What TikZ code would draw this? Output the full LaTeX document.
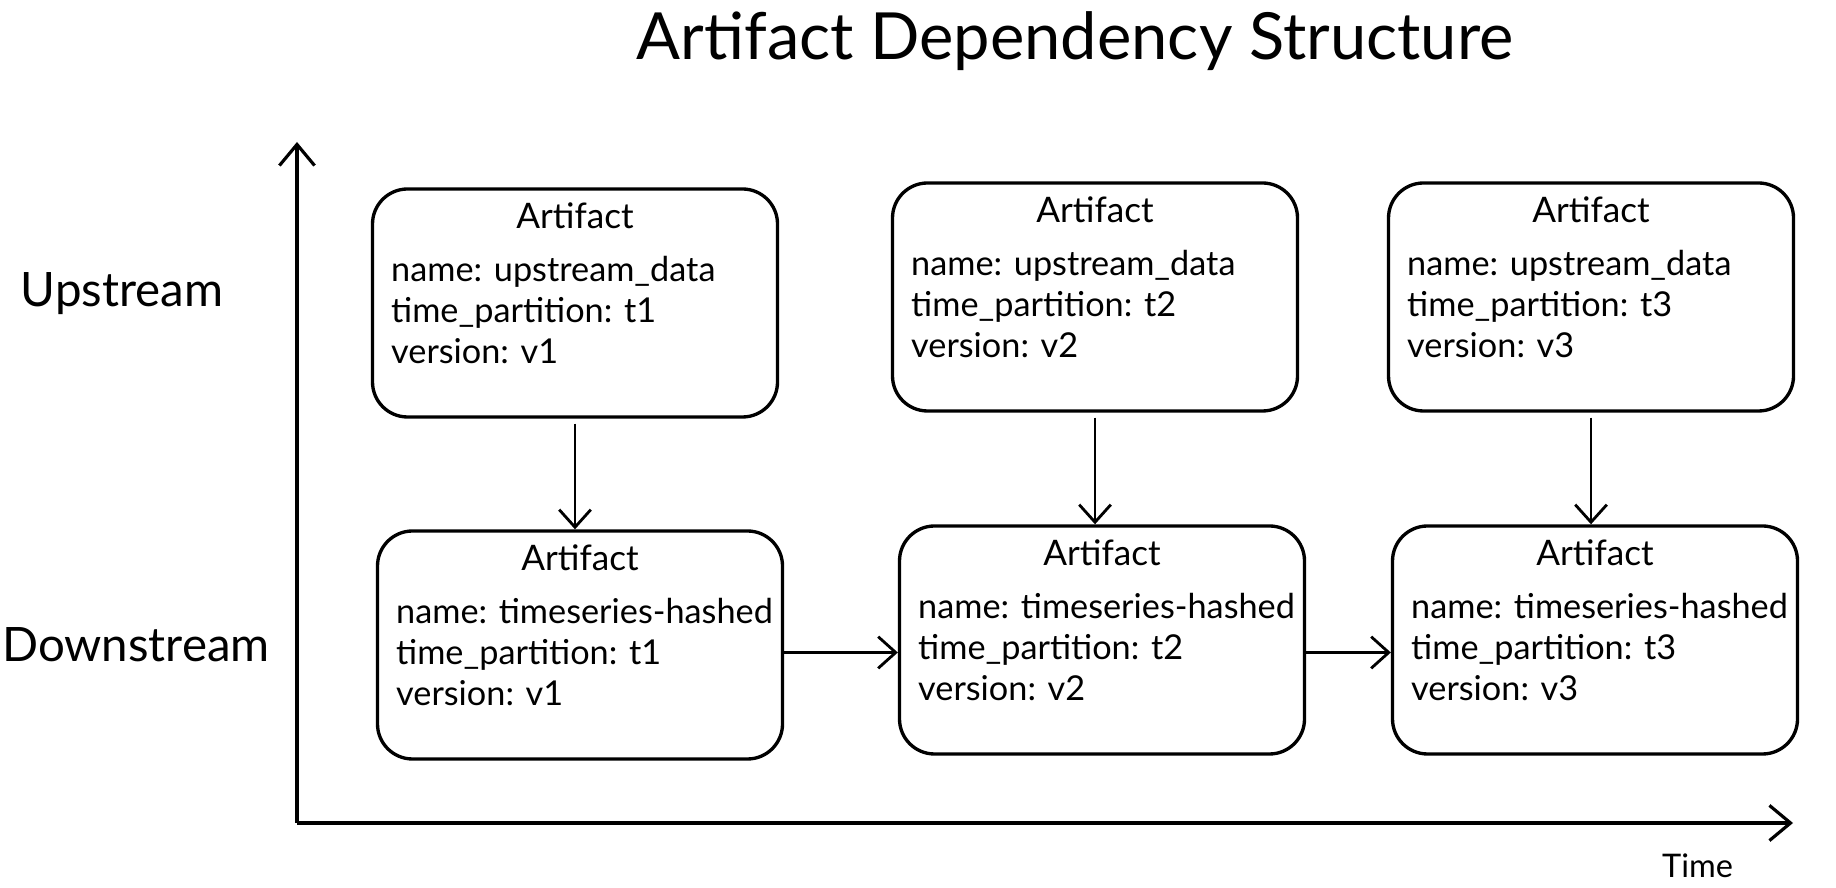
\documentclass[tikz,border=0pt]{standalone}
\usepackage{fontspec}
\setmainfont{Lato}
\usetikzlibrary{arrows.meta}

\tikzset{
    artbox/.style={draw, line width=1.9pt, rounded corners=0.7cm, minimum width=8.1cm, minimum height=4.56cm},
    headtxt/.style={font=\fontsize{20}{23}\selectfont, inner sep=0pt},
    bodytxt/.style={font=\fontsize{19.5}{23.2}\selectfont, align=left, anchor=north west, inner sep=0pt},
    flow/.style={line width=1.6pt, -{Straight Barb[length=10pt,width=18pt,line width=1.6pt]}},
    axis/.style={line width=2.4pt, -{Straight Barb[length=12pt,width=20pt,line width=1.8pt]}},
}

\begin{document}
\begin{tikzpicture}
        \useasboundingbox (0,0) rectangle (36.72,17.76);
        \node[font=\fontsize{37}{44}\selectfont] (title) at (21.5,16.94) {Artifact Dependency Structure};
        % axes
        \coordinate (origin) at (5.94,1.3);
        \coordinate (ytop) at (5.94,14.92);
        \coordinate (xend) at (35.86,1.3);
        \draw[axis] (origin) -- (ytop);
        \draw[axis] (origin) -- (xend);
        \node[font=\fontsize{18.5}{22}\selectfont] (time) at (33.95,0.44) {Time};
        \node[font=\fontsize{27}{32}\selectfont] (upstream) at (2.44,11.88) {Upstream};
        \node[font=\fontsize{27}{32}\selectfont] (downstream) at (2.72,4.86) {Downstream};
        % upstream artifacts
        \node[artbox] (up1) at (11.5,11.7) {};
        \node[headtxt] (up1h) at ([yshift=-0.56cm]up1.north) {Artifact};
        \node[bodytxt] (up1b) at ([xshift=0.4cm,yshift=-1.38cm]up1.north west) {name: upstream\_data\\time\_partition: t1\\version: v1};
        \node[artbox] (up2) at (21.9,11.82) {};
        \node[headtxt] (up2h) at ([yshift=-0.56cm]up2.north) {Artifact};
        \node[bodytxt] (up2b) at ([xshift=0.4cm,yshift=-1.38cm]up2.north west) {name: upstream\_data\\time\_partition: t2\\version: v2};
        \node[artbox] (up3) at (31.82,11.82) {};
        \node[headtxt] (up3h) at ([yshift=-0.56cm]up3.north) {Artifact};
        \node[bodytxt] (up3b) at ([xshift=0.4cm,yshift=-1.38cm]up3.north west) {name: upstream\_data\\time\_partition: t3\\version: v3};
        % downstream artifacts
        \node[artbox] (low1) at (11.6,4.86) {};
        \node[headtxt] (low1h) at ([yshift=-0.56cm]low1.north) {Artifact};
        \node[bodytxt] (low1b) at ([xshift=0.4cm,yshift=-1.38cm]low1.north west) {name: timeseries-hashed\\time\_partition: t1\\version: v1};
        \node[artbox] (low2) at (22.04,4.96) {};
        \node[headtxt] (low2h) at ([yshift=-0.56cm]low2.north) {Artifact};
        \node[bodytxt] (low2b) at ([xshift=0.4cm,yshift=-1.38cm]low2.north west) {name: timeseries-hashed\\time\_partition: t2\\version: v2};
        \node[artbox] (low3) at (31.9,4.96) {};
        \node[headtxt] (low3h) at ([yshift=-0.56cm]low3.north) {Artifact};
        \node[bodytxt] (low3b) at ([xshift=0.4cm,yshift=-1.38cm]low3.north west) {name: timeseries-hashed\\time\_partition: t3\\version: v3};
        % dependencies
        \draw[flow] ([yshift=-0.1cm]up1.south) -- (up1.south |- low1.north);
        \draw[flow] ([yshift=-0.1cm]up2.south) -- (up2.south |- low2.north);
        \draw[flow] ([yshift=-0.1cm]up3.south) -- (up3.south |- low3.north);
        \draw[flow] ([yshift=-0.15cm]low1.east) -- ([yshift=-0.15cm]low1.east -| low2.west);
        \draw[flow] ([yshift=-0.25cm]low2.east) -- ([yshift=-0.25cm]low2.east -| low3.west);
\end{tikzpicture}
\end{document}
